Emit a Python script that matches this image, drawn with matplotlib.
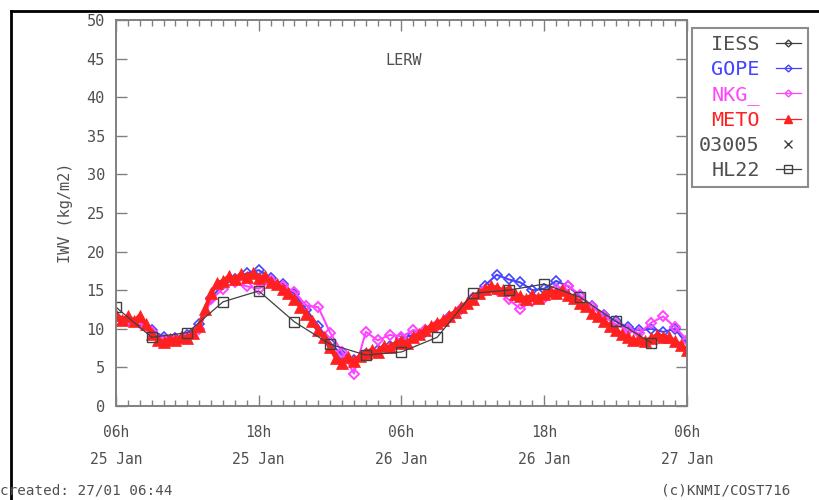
import numpy as np
import matplotlib
matplotlib.use("Agg")
import matplotlib.pyplot as plt
from matplotlib.lines import Line2D

# hours since 06h 25 Jan
tick_hours = [0, 12, 24, 36, 48]
tick_labels = ["06h\n25 Jan", "18h\n25 Jan", "06h\n26 Jan", "18h\n26 Jan", "06h\n27 Jan"]

# METO, every 30 min
meto_hours = np.arange(0, 48.5, 0.5)
meto = [11.8, 11.2, 11.6, 11.0, 11.7, 10.6, 9.3, 8.6, 8.3, 8.7,
        8.5, 9.0, 8.8, 9.4, 10.4, 12.6, 14.6, 15.9, 16.2, 16.8,
        16.4, 17.1, 16.7, 17.2, 16.6, 16.9, 16.0, 15.8, 15.2, 14.6,
        13.9, 12.8, 11.9, 11.0, 9.8, 8.9, 7.6, 6.2, 5.6, 6.4,
        5.8, 6.5, 6.9, 7.3, 7.0, 7.8, 7.6, 8.1, 8.4, 8.2,
        9.0, 9.3, 9.9, 10.4, 10.8, 11.1, 11.7, 12.2, 12.8, 13.4,
        13.9, 14.6, 15.1, 15.5, 15.3, 15.0, 15.2, 14.5, 14.2, 13.9,
        14.4, 14.0, 14.5, 14.9, 14.7, 15.0, 14.4, 14.0, 13.4, 12.9,
        12.1, 11.6, 11.0, 10.4, 9.9, 9.3, 8.9, 8.5, 8.7, 8.4,
        8.8, 9.2, 9.0, 8.9, 8.4, 7.9, 7.3]

# GOPE and NKG_, hourly
hourly = np.arange(0, 49, 1)
gope = [11.5, 11.2, 11.0, 9.8, 9.0, 8.8, 9.2, 10.6, 14.0, 15.8,
        16.5, 17.2, 17.6, 16.6, 15.8, 14.5, 12.5, 10.4, 8.2, 6.6,
        6.0, 6.8, 7.2, 7.8, 8.8, 9.2, 9.6, 10.4, 11.5, 12.6,
        14.0, 15.6, 17.0, 16.4, 16.0, 15.0, 15.2, 16.2, 15.5, 14.2,
        13.0, 11.8, 11.0, 10.2, 9.8, 10.0, 9.6, 10.0, 8.0]
nkg = [11.0, 11.3, 10.8, 9.6, 8.5, 8.6, 9.0, 10.0, 13.8, 15.2,
       16.0, 15.5, 15.2, 16.2, 15.6, 14.8, 13.0, 12.8, 9.5, 7.0,
       4.2, 9.6, 8.5, 9.2, 9.0, 9.8, 9.8, 10.5, 11.4, 12.6,
       14.0, 15.0, 15.0, 13.8, 12.6, 13.6, 14.0, 15.2, 15.6, 14.4,
       12.8, 11.6, 10.6, 9.8, 9.4, 10.8, 11.6, 10.2, 8.6]

# HL22, every 3 hours
hl22_hours = np.arange(0, 48, 3)
hl22 = [12.8, 8.9, 9.5, 13.5, 14.9, 10.9, 8.0, 6.6, 7.0, 8.9,
        14.6, 15.0, 15.8, 14.1, 11.0, 8.2]

plt.rcParams["font.family"] = ["DejaVu Sans Mono"]
txt = "#505050"

fig = plt.figure(figsize=(8.19, 5.0), dpi=100)
ax = fig.add_axes([116 / 819, 94 / 500, 571 / 819, 386 / 500])

ax.plot(hourly, gope, color="#4444ff", marker="D", ms=5, mfc="none", lw=1.5, mew=1.2)
ax.plot(hourly, nkg, color="#ff44ff", marker="D", ms=5.5, mfc="none", lw=1.5, mew=1.4)
ax.plot(meto_hours, meto, color="#ff2020", marker="^", ms=9, lw=3, mew=0.5)
ax.plot(hl22_hours, hl22, color="#404040", marker="s", ms=7, mfc="none", lw=0.9, mew=1.0)

ax.set_xlim(0, 48)
ax.set_ylim(0, 50)
ax.set_yticks(np.arange(0, 51, 5))
ax.set_xticks(tick_hours)
ax.set_xticklabels(tick_labels, linespacing=2.0)
ax.set_xticks(np.arange(0, 49, 1), minor=True)
ax.tick_params(which="major", direction="in", length=8, width=1, color="#808080",
               top=True, right=True, labelsize=10.5, labelcolor=txt, pad=14)
ax.tick_params(axis="y", pad=8, labelsize=11)
ax.tick_params(which="minor", direction="in", length=4, width=1, color="#808080",
               top=True, right=False)
ax.tick_params(axis="y", which="minor", left=False, right=False)
for s in ax.spines.values():
    s.set_color("#808080")
    s.set_linewidth(1.4)

ax.set_ylabel("IWV (kg/m2)", fontsize=11, color=txt, labelpad=10)
ax.text(0.504, 0.896, "LERW", transform=ax.transAxes, ha="center", va="center",
        fontsize=11, color=txt)

handles = [
    Line2D([], [], color="#404040", marker="D", ms=3.5, mfc="none", lw=0.9),
    Line2D([], [], color="#4444ff", marker="D", ms=3.5, mfc="none", lw=0.9),
    Line2D([], [], color="#ff44ff", marker="D", ms=3.5, mfc="none", lw=0.9),
    Line2D([], [], color="#ff2020", marker="^", ms=6, lw=0.9),
    Line2D([], [], color="#404040", marker="x", ms=6, lw=0),
    Line2D([], [], color="#404040", marker="s", ms=6, mfc="none", lw=0.9),
]
names = ["IESS", "GOPE", "NKG_", "METO", "03005", "HL22"]
colors = [txt, "#4444ff", "#ff44ff", "#ff2020", txt, txt]
leg = fig.legend(handles, names, loc="upper left",
                 bbox_to_anchor=(692 / 819, 1 - 28 / 500), bbox_transform=fig.transFigure,
                 markerfirst=False, frameon=True, fancybox=False, fontsize=14.5,
                 handlelength=1.25, labelspacing=0.3, borderaxespad=0, borderpad=0.35,
                 handletextpad=0.8)
leg.get_frame().set_edgecolor("#707070")
leg.get_frame().set_linewidth(1.5)
for t, c in zip(leg.get_texts(), colors):
    t.set_color(c)

# black border of the original screenshot
fig.add_artist(Line2D([11 / 819, 11 / 819], [0, 1 - 11 / 500], color="black", lw=2))
fig.add_artist(Line2D([11 / 819, 1], [1 - 11 / 500, 1 - 11 / 500], color="black", lw=2))

fig.text(0.0, 0.005, "created: 27/01 06:44", fontsize=10.3, color=txt, ha="left", va="bottom")
fig.text(790 / 819, 0.005, "(c)KNMI/COST716", fontsize=10.3, color=txt, ha="right", va="bottom")

fig.savefig("out.png", dpi=100)
